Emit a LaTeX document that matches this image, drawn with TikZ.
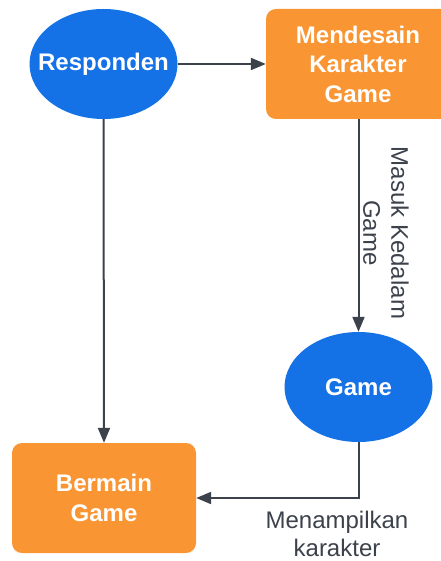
\documentclass[tikz,border=0pt]{standalone}
\usepackage{fontspec}
\setmainfont{Liberation Sans}
\usetikzlibrary{shapes.geometric,arrows.meta}
\definecolor{bblue}{HTML}{1471E6}
\definecolor{borange}{HTML}{F99533}
\definecolor{lgray}{HTML}{3C424C}
\begin{document}
\begin{tikzpicture}[x=1pt,y=-1pt,
  ell/.style={ellipse,fill=bblue,text=white,font=\fontsize{24}{28}\selectfont\bfseries,inner sep=0pt,minimum width=148pt,minimum height=110pt},
  obox/.style={rectangle,rounded corners=10pt,fill=borange,text=white,font=\fontsize{24}{29.5}\selectfont\bfseries,align=center,inner sep=0pt,minimum width=184pt,minimum height=110pt},
  conn/.style={draw=lgray,line width=2pt,-{Triangle[length=15pt,width=12pt]}},
  lbl/.style={text=lgray,font=\fontsize{24}{28}\selectfont,align=center,inner sep=0pt}]
\useasboundingbox (0,0) rectangle (440,561);
\fill[white] (0,0) rectangle (440,561);
\node[ell] (resp) at (103.5,64) {\makebox[0pt]{Responden}};
\node[obox] (mend) at (358,64) {Mendesain\\Karakter\\Game};
\node[ell] (game) at (358.5,387) {\makebox[0pt]{Game}};
\node[obox] (berm) at (104,498) {Bermain\\Game};
\coordinate (corner) at (358.5,498);
\draw[conn] (resp.east) -- (mend.west);
\draw[conn] (mend.south -| game.north) -- (game.north);
\draw[conn] (resp.south) -- (berm.north);
\draw[conn] (game.south) -- (corner) -- (berm.east);
\node[lbl,rotate=-90] (l1) at (386,233) {Masuk Kedalam\\Game};
\node[lbl] (l2) at (337,534) {Menampilkan\\karakter};
\end{tikzpicture}
\end{document}
